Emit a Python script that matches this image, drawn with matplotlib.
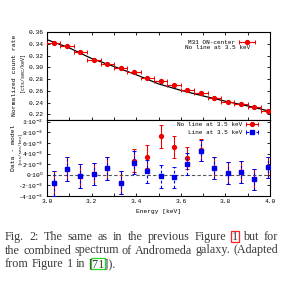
import matplotlib
matplotlib.use("Agg")
import matplotlib.pyplot as plt
from matplotlib.patches import Rectangle
from matplotlib.transforms import IdentityTransform
from matplotlib.lines import Line2D
from matplotlib.legend_handler import HandlerLine2D, HandlerTuple

# ---------------- data ----------------
energy = [3.03, 3.09, 3.15, 3.21, 3.27, 3.33, 3.39, 3.45, 3.51, 3.57,
          3.63, 3.69, 3.75, 3.81, 3.87, 3.93, 3.99]
energy_halfwidth = 0.03
rate = [0.3407, 0.3360, 0.3253, 0.3120, 0.3055, 0.2985, 0.2916, 0.2812,
        0.2776, 0.2694, 0.2616, 0.2570, 0.2477, 0.2415, 0.2381, 0.2335, 0.2267]

model_e = [3.0, 3.1, 3.2, 3.3, 3.4, 3.5, 3.6, 3.7, 3.8, 3.9, 4.0]
model_rate = [0.3470, 0.3330, 0.3150, 0.3015, 0.2875, 0.2720, 0.2610,
              0.2515, 0.2425, 0.2345, 0.2255]

resid_noline = [-1.64e-3, 1.03e-3, -0.25e-3, 0.13e-3, 1.20e-3, -1.50e-3,
                2.67e-3, 3.43e-3, 7.24e-3, 5.20e-3, 3.10e-3, 4.60e-3,
                1.33e-3, 0.26e-3, 0.50e-3, -0.88e-3, 1.40e-3]
resid_line = [-1.64e-3, 1.03e-3, -0.25e-3, 0.13e-3, 1.20e-3, -1.50e-3,
              2.30e-3, 0.65e-3, -0.25e-3, -0.50e-3, 2.00e-3, 4.55e-3,
              1.33e-3, 0.26e-3, 0.50e-3, -0.88e-3, 1.40e-3]
resid_err = [2.4e-3, 2.3e-3, 2.25e-3, 2.15e-3, 2.2e-3, 2.2e-3, 2.2e-3,
             2.2e-3, 2.15e-3, 2.05e-3, 2.1e-3, 2.05e-3, 2.05e-3, 2.05e-3,
             2.05e-3, 2.0e-3, 2.0e-3]

xticks = [3.0, 3.1, 3.2, 3.3, 3.4, 3.5, 3.6, 3.7, 3.8, 3.9, 4.0]
xticklabels = ["3.0", "", "3.2", "", "3.4", "", "3.6", "", "3.8", "", "4.0"]
top_yticks = [0.22, 0.24, 0.26, 0.28, 0.30, 0.32, 0.34, 0.36]
bot_yticks = [-4e-3, -2e-3, 0.0, 2e-3, 4e-3, 6e-3, 8e-3, 1e-2]
bot_yticklabels = [r"-4$\cdot$10$^{-3}$", r"-2$\cdot$10$^{-3}$", r"0$\cdot$10$^{0}$",
                   r"2$\cdot$10$^{-3}$", r"4$\cdot$10$^{-3}$", r"6$\cdot$10$^{-3}$",
                   r"8$\cdot$10$^{-3}$", r"1$\cdot$10$^{-2}$"]

caption_lines = [
    ["Fig.", "2:", "The", "same", "as", "in", "the", "previous", "Figure", "1", "but", "for"],
    ["the", "combined", "spectrum", "of", "Andromeda", "galaxy.", "(Adapted"],
    ["from", "Figure", "1", "in", "[71])."],
]

# ---------------- figure ----------------
W, H = 305, 290
fig = plt.figure(figsize=(W / 100, H / 100), dpi=100)
mono = "Liberation Mono"
RED = "#ee0000"
BLUE = "#0000ee"
DASH = (0, (2.5, 2))

def px_rect(l, t, r, b):
    return [l / W, 1 - b / H, (r - l) / W, (b - t) / H]

ax1 = fig.add_axes(px_rect(47, 32, 270, 119.5))
ax2 = fig.add_axes(px_rect(47, 119.5, 270, 196))

for ax in (ax1, ax2):
    for s in ax.spines.values():
        s.set_linewidth(0.8)
    ax.set_xlim(3.0, 4.0)
    ax.set_xticks(xticks)
    ax.tick_params(direction="in", length=2.3, width=0.6, labelsize=4.5,
                   pad=2.5, right=True)
    for lab in ax.get_yticklabels() + ax.get_xticklabels():
        lab.set_fontfamily(mono)

def legend_handle(color, marker, ls="-"):
    bar = Line2D([], [], color=color, lw=0.8, ls=ls, marker="|", ms=3, mew=0.7)
    dot = Line2D([], [], color=color, ls="none", marker=marker, ms=2.8)
    hmap = {bar: HandlerLine2D(numpoints=2), dot: HandlerLine2D(numpoints=1)}
    return (bar, dot), hmap

# top panel
ax1.plot(model_e, model_rate, color="black", lw=0.9, zorder=2)
ax1.errorbar(energy, rate, xerr=energy_halfwidth, fmt="o", color=RED,
             ms=2.8, lw=0.8, capsize=1.2, capthick=0.7, zorder=3)
ax1.set_ylim(0.2115, 0.36)
ax1.set_yticks(top_yticks)
ax1.set_yticklabels(["%.2f" % v for v in top_yticks], fontfamily=mono)
ax1.tick_params(axis="x", top=True, labelbottom=False)
hr, mr = legend_handle(RED, "o")
hmap1 = {tuple: HandlerTuple(ndivide=1, pad=0)}
hmap1.update(mr)
ax1.legend([hr], ["M31 ON-center"], loc="upper right", handler_map=hmap1,
           bbox_to_anchor=(0.955, 0.955), frameon=False, markerfirst=False,
           prop={"family": mono, "size": 4.3}, handlelength=3.2,
           handletextpad=0.3, borderpad=0.1)
ax1.text(0.617, 0.825, "No line at 3.5 keV", transform=ax1.transAxes,
         fontsize=4.3, fontfamily=mono, va="center", ha="left")

# bottom panel
ax2.axhline(0.0, color="#555555", lw=0.8, ls=(0, (3, 2)), zorder=1)
ax2.errorbar(energy, resid_noline, yerr=resid_err, fmt="o", color=RED,
             ms=2.8, lw=0.8, capsize=1.2, capthick=0.7, zorder=3)
h_blue = ax2.errorbar(energy, resid_line, yerr=resid_err, fmt="s", color=BLUE,
                      ms=2.6, lw=0.8, capsize=1.2, capthick=0.7, zorder=4)
h_blue[2][0].set_linestyle(DASH)
ax2.set_ylim(-0.004, 0.0104)
ax2.set_yticks(bot_yticks)
ax2.set_yticklabels(bot_yticklabels, fontfamily=mono)
ax2.set_xticklabels(xticklabels, fontfamily=mono)
ax2.tick_params(axis="x", top=False)
hr2, mr2 = legend_handle(RED, "o")
hb2, mb2 = legend_handle(BLUE, "s", ls=DASH)
hmap2 = {tuple: HandlerTuple(ndivide=1, pad=0)}
hmap2.update(mr2)
hmap2.update(mb2)
ax2.legend([hr2, hb2], ["No line at 3.5 keV", "Line at 3.5 keV"],
           loc="upper right", bbox_to_anchor=(0.97, 1.01), frameon=False,
           handler_map=hmap2, markerfirst=False,
           prop={"family": mono, "size": 4.3},
           handlelength=2.6, handletextpad=0.3, borderpad=0.1, labelspacing=0.35)
ax2.set_xlabel("Energy [keV]", fontsize=4.5, fontfamily=mono, labelpad=3)

# y labels
fig.text(15 / W, 1 - 75 / H, "Normalized count rate", rotation=90, fontsize=4.6,
         fontfamily=mono, ha="center", va="center")
fig.text(22.5 / W, 1 - 72 / H, "[cts/sec/keV]", rotation=90, fontsize=3.6,
         fontfamily=mono, ha="center", va="center")
fig.text(14 / W, 1 - 148 / H, "Data - model", rotation=90, fontsize=4.6,
         fontfamily=mono, ha="center", va="center")
fig.text(20.5 / W, 1 - 149 / H, "[cts/sec/keV]", rotation=90, fontsize=3.0,
         fontfamily=mono, ha="center", va="center")

# ---------------- caption ----------------
CAP_SIZE = 8.7
cap_font = dict(fontfamily="Liberation Serif", fontsize=CAP_SIZE, color="#3a3a3a")
renderer = fig.canvas.get_renderer()
x_left, x_right = 5.0, 278.0
baselines = [240.0, 253.5, 267.0]
cap_px = CAP_SIZE * 100 / 72 * 0.66

def width_of(s):
    t = fig.text(0, 0, s, transform=IdentityTransform(), **cap_font)
    w = t.get_window_extent(renderer).width
    t.remove()
    return w

def draw_box(x0, x1, yb, color):
    fig.add_artist(Rectangle((x0 - 1.2, H - yb - 1.6), x1 - x0 + 2.4, cap_px + 3.0,
                             fill=False, ec=color, lw=0.9,
                             transform=IdentityTransform()))

space_w = width_of("a a") - width_of("aa")
for li, words in enumerate(caption_lines):
    yb = baselines[li]
    widths = [width_of(w) for w in words]
    if li < 2:
        gap = (x_right - x_left - sum(widths)) / (len(words) - 1)
    else:
        gap = space_w
    x = x_left
    for w, wd in zip(words, widths):
        fig.text(x, H - yb, w, transform=IdentityTransform(), va="baseline", **cap_font)
        if w == "[71]).":
            wb = width_of("[")
            w71 = width_of("71")
            draw_box(x + wb, x + wb + w71, yb, "#22dd22")
        elif li == 0 and w == "1":
            draw_box(x, x + wd, yb, "#ff2222")
        x += wd + gap

fig.savefig("out.png", dpi=100)
